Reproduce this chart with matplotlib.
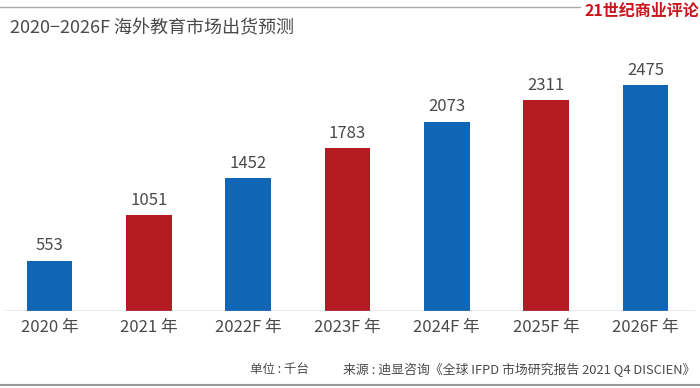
import matplotlib.pyplot as plt
from matplotlib.lines import Line2D

plt.rcParams['font.family'] = ['Noto Sans CJK SC', 'DejaVu Sans']

years = ['2020 年', '2021 年', '2022F 年', '2023F 年', '2024F 年', '2025F 年', '2026F 年']
shipments = [553, 1051, 1452, 1783, 2073, 2311, 2475]
blue = '#1065b5'
red = '#b41b23'
bar_colors = [blue, red, blue, red, blue, red, blue]

fig = plt.figure(figsize=(7, 3.88), dpi=100)
ax = fig.add_axes([0.0, 77 / 388, 695 / 700, 246.5 / 388])

x = range(len(years))
bars = ax.bar(x, shipments, width=0.46, color=bar_colors, zorder=2)
for b, v in zip(bars, shipments):
    ax.text(b.get_x() + b.get_width() / 2, v + 70, str(v), ha='center', va='bottom',
            fontsize=12, color='#4a4a4a')

ax.set_xlim(-0.5, 6.5)
ax.set_ylim(0, 2700)
ax.set_xticks(list(x))
ax.set_xticklabels(years, fontsize=12, color='#4a4a4a')
ax.tick_params(axis='x', length=0, pad=6)
ax.set_yticks([])
for s in ['top', 'right', 'left', 'bottom']:
    ax.spines[s].set_visible(False)
ax.axhline(0, xmin=5 / 695, xmax=1.0, color='#999999', lw=1, zorder=3)

# header / footer decoration
fig.add_artist(Line2D([0, 580 / 700], [1 - 7 / 388] * 2, color='#aaaaaa', lw=1))
fig.text(0.999, 1 - 11 / 388, '21世纪商业评论', ha='right', va='center', fontsize=11.5,
         color='#c8161d', fontweight='bold')
fig.text(10 / 700, 1 - 28 / 388, '2020−2026F 海外教育市场出货预测', ha='left', va='center',
         fontsize=13, color='#4a4a4a')
fig.text(250 / 700, 1 - 370 / 388, '单位 : 千台', ha='left', va='center', fontsize=9,
         color='#4a4a4a')
fig.text(343 / 700, 1 - 370 / 388, '来源 : 迪显咨询《全球 IFPD 市场研究报告 2021 Q4 DISCIEN》',
         ha='left', va='center', fontsize=9.3, color='#4a4a4a')
fig.add_artist(Line2D([0, 1], [1 - 385 / 388] * 2, color='#999999', lw=1.5))

fig.savefig('out.png', dpi=100)
